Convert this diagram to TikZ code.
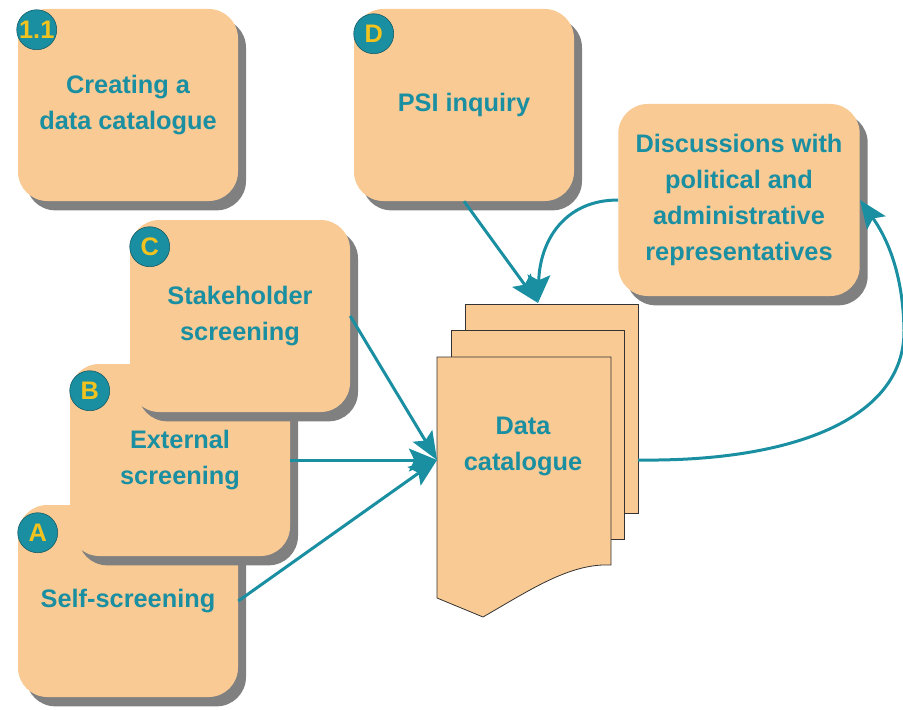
\documentclass[tikz,border=0pt]{standalone}
\usepackage{fontspec}
\setmainfont{Liberation Sans}
\usetikzlibrary{arrows.meta,shadows}

\definecolor{peach}{HTML}{F9CA93}
\definecolor{petrol}{HTML}{1A8FA2}
\definecolor{gold}{HTML}{F2C31E}

\begin{document}
\begin{tikzpicture}[x=0.75pt,y=-0.75pt]
    \tikzstyle{task}=[rectangle,rounded corners=22pt,fill=peach,minimum width=165pt,minimum height=144pt,
        align=center,text=petrol,font=\fontsize{19}{27}\selectfont\bfseries,
        drop shadow={shadow xshift=6pt,shadow yshift=-7pt,fill=black!50,opacity=1}];
    \tikzstyle{badge}=[circle,fill=petrol,draw=petrol!60!black,minimum size=30pt,inner sep=0pt,
        text=gold,font=\fontsize{19}{19}\selectfont\bfseries];
    \tikzstyle{sheet}=[fill=peach,draw=black!80,line width=0.6pt];
    \tikzstyle{flow}=[petrol,line width=2.25pt,-{Stealth[length=21pt,width=17pt,inset=4pt]}];

    \useasboundingbox (0,0) rectangle (903,710);

    \node (cat) [task] at (128,105) {Creating a\\data catalogue};
    \node (catTag) [badge] at ([shift={(19,21)}]cat.north west) {1.1};
    \node (psi) [task] at (464,105) {PSI inquiry};
    \node (psiTag) [badge] at ([shift={(20,25)}]psi.north west) {D};
    \node (disc) [task,minimum width=181pt] at (739,200) {Discussions with\\political and\\administrative\\representatives};

    % screening boxes, the later one lies on the earlier one
    \node (self) [task] at (128,601) {Self-screening};
    \node (selfTag) [badge] at ([shift={(20,28)}]self.north west) {A};
    \node (ext) [task] at (180,460) {External\\screening};
    \node (extTag) [badge] at ([shift={(20,27)}]ext.north west) {B};
    \node (stake) [task] at (240,316) {Stakeholder\\screening};
    \node (stakeTag) [badge] at ([shift={(20,27)}]stake.north west) {C};

    % stack of catalogue sheets
    \draw[sheet] (465,304) rectangle (638,513);
    \draw[sheet] (451,330) rectangle (624,539);
    \draw[sheet] (437,357) -- (611,357) -- (611,565) .. controls (570,563) and (530,590) .. (483,617) -- (437,598) -- cycle;
    \node (data) [text=petrol,align=center,font=\fontsize{19}{27}\selectfont\bfseries] at (523,446) {Data\\catalogue};
    \coordinate (dataIn) at (437,460);
    \coordinate (dataTop) at (538,303);
    \coordinate (dataOut) at (638,460);

    \foreach \src in {stake,ext,self}{
        \draw[flow] (\src.east) -- (dataIn);
    }
    \draw[flow] (psi.south) -- (dataTop);
    \draw[flow] (disc.west) .. controls (565,200) and (540,240) .. (dataTop);
    \draw[flow] (dataOut) .. controls (790,462) and (905,420) .. (904,330) .. controls (903,270) and (885,235) .. (disc.east);

\end{tikzpicture}
\end{document}
